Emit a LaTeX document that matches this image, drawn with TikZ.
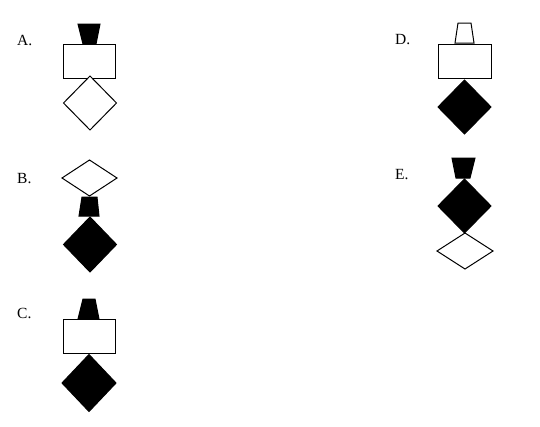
\documentclass[tikz,border=0pt]{standalone}
\usepackage{fontspec}
\setmainfont{Liberation Serif}
\begin{document}
\begin{tikzpicture}[x=1pt,y=-1pt,
  shp/.style={draw=black,line width=1pt,line join=miter},
  blk/.style={shp,fill=black},
  wht/.style={shp,fill=white},
  lbl/.style={anchor=base west,inner sep=0pt,font=\fontsize{15.5}{18}\selectfont}]
\useasboundingbox[fill=white] (0,0) rectangle (540,426);
% A
\node[lbl] (la) at (17,45) {A.};
\draw[blk] (78,24) -- (100,24) -- (96,44) -- (83,44) -- cycle;
\draw[wht] (63,44) rectangle (115,78);
\draw[wht] (90,76) -- (116.5,103) -- (90,130) -- (63.5,103) -- cycle;
% B
\node[lbl] (lb) at (17,183) {B.};
\draw[wht] (89.5,160) -- (117,178) -- (89.5,196) -- (62,178) -- cycle;
\draw[blk] (82,197) -- (97,197) -- (99,216) -- (79,216) -- cycle;
\draw[blk] (90,217) -- (116.5,244.5) -- (90,272) -- (63.5,244.5) -- cycle;
% C
\node[lbl] (lc) at (17,318) {C.};
\draw[blk] (83,299) -- (95,299) -- (99,319) -- (78,319) -- cycle;
\draw[wht] (63,319) rectangle (115,353);
\draw[blk] (89,354.5) -- (116,383) -- (89,411.5) -- (62,383) -- cycle;
% D
\node[lbl] (ld) at (395,44) {D.};
\draw[wht] (458,23) -- (471,23) -- (474,43) -- (455,43) -- cycle;
\draw[wht] (438,44) rectangle (491,78);
\draw[blk] (464.5,80) -- (491,107) -- (464.5,134) -- (438,107) -- cycle;
% E
\node[lbl] (le) at (395,179) {E.};
\draw[blk] (452,158) -- (475,158) -- (470,178) -- (456,178) -- cycle;
\draw[blk] (464.5,179) -- (491,206) -- (464.5,233) -- (438,206) -- cycle;
\draw[wht] (465,233) -- (493,251) -- (465,269) -- (437,251) -- cycle;
\end{tikzpicture}
\end{document}
